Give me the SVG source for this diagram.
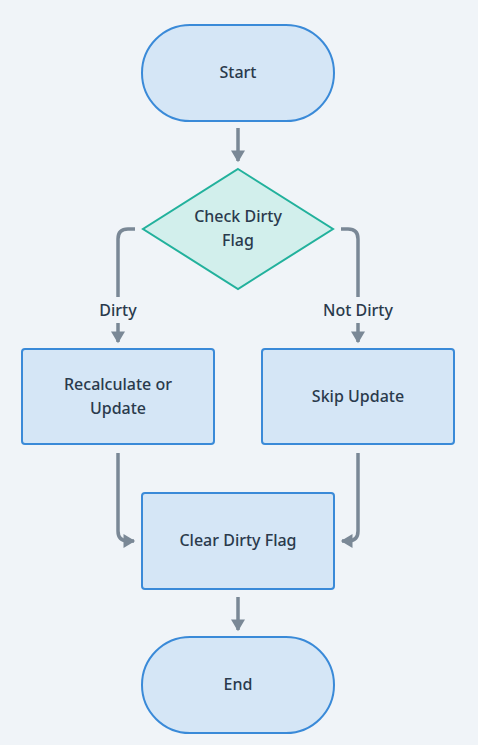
<svg xmlns="http://www.w3.org/2000/svg" width="478" height="745" viewBox="0 0 478 745">
<defs>
<marker id="ah" markerUnits="userSpaceOnUse" markerWidth="14" markerHeight="14" viewBox="0 0 10 12" refX="9" refY="6" orient="auto">
<path d="M0,0 L10,6 L0,12 Z" fill="#7a8896"/>
</marker>
<style>
.node{fill:#d5e6f6;stroke:#3a8ad8;stroke-width:2}
.dec{fill:#d2efec;stroke:#22b19c;stroke-width:2}
.lbl{font-family:"Noto Sans","Lato",sans-serif;font-size:16px;font-weight:500;fill:#2a3a4c;text-anchor:middle;dominant-baseline:central}
.edge{fill:none;stroke:#7a8896;stroke-width:3.5}
</style>
</defs>
<rect width="478" height="745" fill="#f0f4f8"/>
<g id="connectors">
<path class="edge" d="M238,128 V161" marker-end="url(#ah)"/>
<path class="edge" d="M135,229 H128 Q118,229 118,239 V297"/>
<path class="edge" d="M118,323 V342" marker-end="url(#ah)"/>
<path class="edge" d="M341,229 H348 Q358,229 358,239 V297"/>
<path class="edge" d="M358,323 V342" marker-end="url(#ah)"/>
<path class="edge" d="M118,453 V531 Q118,541 128,541 H134" marker-end="url(#ah)"/>
<path class="edge" d="M358,453 V531 Q358,541 348,541 H342" marker-end="url(#ah)"/>
<path class="edge" d="M238,597 V630" marker-end="url(#ah)"/>
<text class="lbl" x="118" y="310">Dirty</text>
<text class="lbl" x="358" y="310">Not Dirty</text>
</g>
<g id="start">
<rect class="node" x="142" y="25" width="192" height="96" rx="48"/>
<text class="lbl" x="238" y="72">Start</text>
</g>
<g id="check">
<path class="dec" d="M238,169 L333,229 L238,289 L143,229 Z"/>
<text class="lbl" x="238" y="216">Check Dirty</text>
<text class="lbl" x="238" y="240">Flag</text>
</g>
<g id="recalc">
<rect class="node" x="22" y="349" width="192" height="95" rx="3"/>
<text class="lbl" x="118" y="384">Recalculate or</text>
<text class="lbl" x="118" y="408">Update</text>
</g>
<g id="skip">
<rect class="node" x="262" y="349" width="192" height="95" rx="3"/>
<text class="lbl" x="358" y="396">Skip Update</text>
</g>
<g id="clear">
<rect class="node" x="142" y="493" width="192" height="96" rx="3"/>
<text class="lbl" x="238" y="540">Clear Dirty Flag</text>
</g>
<g id="end">
<rect class="node" x="142" y="637" width="192" height="96" rx="48"/>
<text class="lbl" x="238" y="684">End</text>
</g>
</svg>
